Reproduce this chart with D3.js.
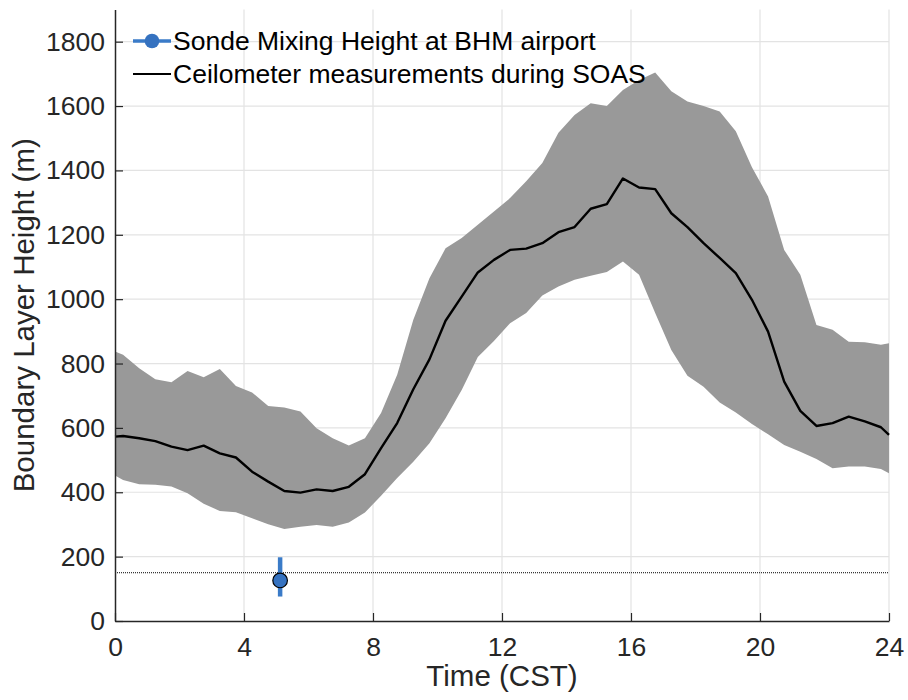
<!DOCTYPE html>
<html>
<head>
<meta charset="utf-8">
<script src="https://cdn.jsdelivr.net/npm/d3@7"></script>
<style>
html,body{margin:0;padding:0;background:#fff;}
svg{display:block;font-family:"Liberation Sans",Arial,Helvetica,sans-serif;}
</style>
</head>
<body>
<svg id="chart" width="908" height="700"></svg>
<script>
// ---- data ----
const hours = [0, 0.25, 0.75, 1.25, 1.75, 2.25, 2.75, 3.25, 3.75, 4.25, 4.75, 5.25, 5.75, 6.25, 6.75, 7.25, 7.75,
  8.25, 8.75, 9.25, 9.75, 10.25, 10.75, 11.25, 11.75, 12.25, 12.75, 13.25, 13.75, 14.25, 14.75, 15.25, 15.75,
  16.25, 16.75, 17.25, 17.75, 18.25, 18.75, 19.25, 19.75, 20.25, 20.75, 21.25, 21.75, 22.25, 22.75, 23.25, 23.75, 24];
const meanHeight = [573, 575, 568, 559, 542, 531, 545, 521, 508, 464, 433, 404, 399, 409, 404, 417, 456,
  537, 615, 720, 813, 933, 1008, 1083, 1122, 1153, 1157, 1174, 1208, 1224, 1281, 1295, 1375,
  1347, 1342, 1267, 1224, 1174, 1128, 1081, 998, 899, 744, 653, 606, 615, 635, 620, 602, 578];
const upperHeight = [837, 827, 785, 751, 742, 777, 757, 783, 730, 710, 668, 663, 651, 599, 568, 545, 568,
  646, 765, 936, 1065, 1158, 1190, 1231, 1272, 1314, 1366, 1423, 1517, 1572, 1609, 1600, 1650,
  1681, 1704, 1646, 1614, 1600, 1583, 1522, 1410, 1319, 1153, 1076, 920, 905, 868, 866, 858, 863];
const lowerHeight = [452, 438, 425, 423, 418, 397, 364, 342, 338, 319, 301, 286, 293, 298, 293, 306, 337,
  389, 444, 495, 552, 630, 718, 820, 870, 925, 957, 1011, 1039, 1060, 1073, 1084, 1117,
  1076, 957, 842, 762, 728, 679, 648, 612, 580, 547, 526, 503, 475, 480, 480, 472, 459];
const sondeTime = [5.12];
const sondeHeight = [126];
const sondeLow = [76];
const sondeHigh = [198];
const refLineHeight = 150;
const xTicks = [0, 4, 8, 12, 16, 20, 24];
const yTicks = [0, 200, 400, 600, 800, 1000, 1200, 1400, 1600, 1800];
const legendLabels = ["Sonde Mixing Height at BHM airport", "Ceilometer measurements during SOAS"];
const xLabel = "Time (CST)";
const yLabel = "Boundary Layer Height (m)";

// ---- layout ----
const L = 115, R = 889, B = 621, T = 9.5;
const svg = d3.select("#chart");
const x = d3.scaleLinear().domain([0, 24]).range([L, R]);
const y = d3.scaleLinear().domain([0, 1900]).range([B, T]);
const axisCol = "#262626";
const tickFont = "26.5px";

// grid
const grid = svg.append("g");
grid.selectAll("line.vg").data(xTicks.filter(d => d > 0)).enter().append("line")
  .attr("x1", d => x(d)).attr("x2", d => x(d)).attr("y1", B).attr("y2", T)
  .attr("stroke", "#e3e3e3").attr("stroke-width", 1.2);
grid.selectAll("line.hg").data(yTicks.filter(d => d > 0)).enter().append("line")
  .attr("x1", L).attr("x2", R).attr("y1", d => y(d)).attr("y2", d => y(d))
  .attr("stroke", "#e3e3e3").attr("stroke-width", 1.2);

const series = hours.map((h, i) => ({h, m: meanHeight[i], lo: lowerHeight[i], hi: upperHeight[i]}));

// band
svg.append("path").datum(series)
  .attr("d", d3.area().x(d => x(d.h)).y0(d => y(d.lo)).y1(d => y(d.hi)))
  .attr("fill", "#999999").attr("stroke", "none");

// mean line
svg.append("path").datum(series)
  .attr("d", d3.line().x(d => x(d.h)).y(d => y(d.m)))
  .attr("fill", "none").attr("stroke", "#000").attr("stroke-width", 2.4)
  .attr("stroke-linejoin", "round");

// dotted reference line
svg.append("line").attr("x1", L).attr("x2", R)
  .attr("y1", y(refLineHeight)).attr("y2", y(refLineHeight))
  .attr("stroke", "#000").attr("stroke-width", 1).attr("stroke-dasharray", "1,1");

// sonde
const sonde = sondeTime.map((t, i) => ({t, v: sondeHeight[i], lo: sondeLow[i], hi: sondeHigh[i]}));
svg.selectAll("line.err").data(sonde).enter().append("line")
  .attr("x1", d => x(d.t)).attr("x2", d => x(d.t)).attr("y1", d => y(d.lo)).attr("y2", d => y(d.hi))
  .attr("stroke", "#3a7bc8").attr("stroke-width", 4.5);
svg.selectAll("circle.sonde").data(sonde).enter().append("circle")
  .attr("cx", d => x(d.t)).attr("cy", d => y(d.v)).attr("r", 7.3)
  .attr("fill", "#3572c0").attr("stroke", "#000").attr("stroke-width", 1.2);

// axes
const xAxis = d3.axisBottom(x).tickValues(xTicks).tickFormat(d3.format("d"))
  .tickSizeInner(-8).tickSizeOuter(0).tickPadding(16);
const yAxis = d3.axisLeft(y).tickValues(yTicks).tickFormat(d3.format("d"))
  .tickSizeInner(-8).tickSizeOuter(0).tickPadding(10);
const gx = svg.append("g").attr("transform", `translate(0,${B})`).call(xAxis);
const gy = svg.append("g").attr("transform", `translate(${L},0)`).call(yAxis);
[gx, gy].forEach(g => {
  g.select(".domain").attr("stroke", axisCol).attr("stroke-width", 1.5);
  g.selectAll(".tick line").attr("stroke", axisCol).attr("stroke-width", 1.2);
  g.selectAll(".tick text").attr("fill", axisCol).style("font-size", tickFont)
    .style("font-family", "'Liberation Sans',Arial,sans-serif");
});
gx.selectAll(".tick text").attr("dy", "0.71em");

// axis labels
svg.append("text").attr("x", (L + R) / 2).attr("y", 686).attr("text-anchor", "middle")
  .attr("fill", axisCol).style("font-size", "29.5px").text(xLabel);
svg.append("text").attr("transform", `translate(34,${y(950)}) rotate(-90)`)
  .attr("text-anchor", "middle").attr("fill", axisCol).style("font-size", "29.5px").text(yLabel);

// legend
const lg = svg.append("g");
lg.append("line").attr("x1", 133).attr("x2", 171).attr("y1", 41).attr("y2", 41)
  .attr("stroke", "#3a7bc8").attr("stroke-width", 3.5);
lg.append("circle").attr("cx", 152).attr("cy", 41).attr("r", 7.3).attr("fill", "#3572c0");
lg.append("line").attr("x1", 133).attr("x2", 171).attr("y1", 74).attr("y2", 74)
  .attr("stroke", "#000").attr("stroke-width", 2.2);
lg.selectAll("text").data(legendLabels).enter().append("text")
  .attr("x", 173).attr("y", (d, i) => 50 + i * 33)
  .attr("fill", "#000").style("font-size", "26.5px").text(d => d);
</script>
</body>
</html>
